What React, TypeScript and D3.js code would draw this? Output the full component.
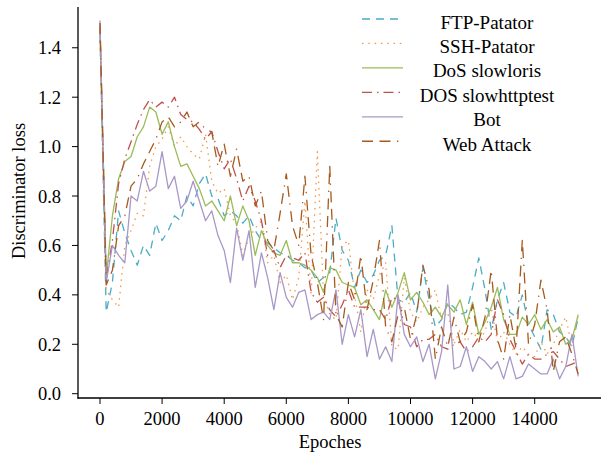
import React from "react";
import * as d3 from "d3";

const EPOCH_STEP = 200;
const N_POINTS = 78;

const FTP_PATATOR = [1.45, 0.33, 0.45, 0.74, 0.65, 0.58, 0.52, 0.60, 0.56, 0.69, 0.62, 0.66, 0.72, 0.70, 0.80, 0.76, 0.85, 0.89, 0.80, 0.79, 0.72, 0.74, 0.72, 0.69, 0.72, 0.66, 0.62, 0.61, 0.59, 0.57, 0.56, 0.54, 0.53, 0.51, 0.50, 0.45, 0.47, 0.49, 0.71, 0.58, 0.54, 0.43, 0.50, 0.45, 0.48, 0.54, 0.56, 0.68, 0.38, 0.37, 0.41, 0.33, 0.51, 0.38, 0.27, 0.30, 0.37, 0.35, 0.32, 0.33, 0.43, 0.55, 0.42, 0.26, 0.38, 0.45, 0.33, 0.31, 0.40, 0.28, 0.23, 0.18, 0.34, 0.32, 0.25, 0.23, 0.19, 0.31];
const SSH_PATATOR = [1.45, 0.42, 0.38, 0.35, 0.60, 0.66, 0.73, 0.72, 0.92, 1.00, 1.03, 1.08, 1.00, 1.04, 1.00, 0.97, 0.95, 1.05, 0.86, 0.81, 0.83, 0.72, 0.69, 0.56, 0.63, 0.67, 0.70, 0.53, 0.56, 0.45, 0.48, 0.38, 0.47, 0.78, 0.40, 0.98, 0.40, 0.32, 0.30, 0.60, 0.62, 0.40, 0.25, 0.42, 0.38, 0.48, 0.53, 0.19, 0.18, 0.47, 0.33, 0.29, 0.35, 0.38, 0.42, 0.30, 0.33, 0.20, 0.26, 0.21, 0.25, 0.22, 0.25, 0.35, 0.21, 0.25, 0.20, 0.16, 0.19, 0.16, 0.15, 0.21, 0.16, 0.20, 0.26, 0.31, 0.19, 0.31];
const DOS_SLOWLORIS = [1.48, 0.47, 0.72, 0.87, 0.94, 0.96, 1.04, 1.08, 1.16, 1.14, 1.05, 1.10, 1.00, 0.92, 0.93, 0.88, 0.83, 0.76, 0.78, 0.74, 0.70, 0.80, 0.68, 0.76, 0.70, 0.56, 0.66, 0.60, 0.57, 0.56, 0.62, 0.53, 0.53, 0.52, 0.50, 0.47, 0.41, 0.51, 0.50, 0.45, 0.44, 0.43, 0.36, 0.38, 0.34, 0.30, 0.42, 0.35, 0.41, 0.49, 0.38, 0.41, 0.37, 0.32, 0.35, 0.31, 0.36, 0.33, 0.38, 0.28, 0.37, 0.24, 0.29, 0.35, 0.43, 0.30, 0.24, 0.24, 0.31, 0.28, 0.32, 0.26, 0.30, 0.25, 0.27, 0.20, 0.22, 0.32];
const DOS_SLOWHTTPTEST = [1.49, 0.46, 0.62, 0.85, 0.95, 1.02, 1.09, 1.15, 1.19, 1.16, 1.18, 1.16, 1.20, 1.13, 1.11, 1.10, 1.07, 1.03, 1.06, 0.98, 0.91, 0.95, 0.87, 0.78, 0.84, 0.78, 0.70, 0.56, 0.58, 0.51, 0.56, 0.55, 0.54, 0.57, 0.41, 0.37, 0.39, 0.34, 0.31, 0.36, 0.42, 0.35, 0.35, 0.35, 0.34, 0.34, 0.30, 0.39, 0.38, 0.28, 0.27, 0.19, 0.22, 0.22, 0.24, 0.19, 0.18, 0.20, 0.21, 0.17, 0.19, 0.23, 0.21, 0.24, 0.38, 0.32, 0.22, 0.17, 0.12, 0.16, 0.14, 0.14, 0.16, 0.17, 0.14, 0.11, 0.12, 0.13];
const BOT = [1.51, 0.45, 0.60, 0.56, 0.53, 0.80, 0.78, 0.90, 0.82, 0.84, 0.98, 0.83, 0.88, 0.75, 0.78, 0.86, 0.78, 0.70, 0.74, 0.64, 0.58, 0.45, 0.67, 0.54, 0.66, 0.43, 0.57, 0.47, 0.34, 0.49, 0.39, 0.35, 0.41, 0.42, 0.30, 0.32, 0.33, 0.30, 0.42, 0.20, 0.32, 0.23, 0.34, 0.15, 0.26, 0.14, 0.19, 0.13, 0.40, 0.24, 0.19, 0.23, 0.13, 0.20, 0.06, 0.17, 0.44, 0.10, 0.11, 0.19, 0.09, 0.15, 0.13, 0.10, 0.13, 0.06, 0.15, 0.06, 0.07, 0.12, 0.10, 0.08, 0.08, 0.14, 0.06, 0.11, 0.24, 0.07];
const WEB_ATTACK = [1.50, 0.44, 0.50, 0.68, 0.72, 0.84, 0.87, 0.93, 0.98, 1.03, 1.10, 1.12, 1.08, 1.10, 1.14, 1.08, 1.10, 1.07, 1.06, 0.92, 1.01, 0.88, 0.99, 0.86, 0.88, 0.76, 0.82, 0.62, 0.58, 0.73, 0.89, 0.68, 0.60, 0.88, 0.56, 0.45, 0.30, 0.92, 0.32, 0.27, 0.45, 0.38, 0.56, 0.34, 0.46, 0.62, 0.27, 0.21, 0.32, 0.35, 0.22, 0.32, 0.52, 0.42, 0.14, 0.27, 0.19, 0.31, 0.21, 0.25, 0.36, 0.21, 0.31, 0.50, 0.22, 0.14, 0.32, 0.18, 0.62, 0.20, 0.28, 0.46, 0.34, 0.09, 0.21, 0.23, 0.16, 0.08];

const SERIES_NAMES = ["FTP-Patator", "SSH-Patator", "DoS slowloris", "DOS slowhttptest", "Bot", "Web Attack"];
const SERIES_VALUES = [FTP_PATATOR, SSH_PATATOR, DOS_SLOWLORIS, DOS_SLOWHTTPTEST, BOT, WEB_ATTACK];
const SERIES_COLORS = ["#4bacc6", "#f79646", "#9bbb59", "#c0504d", "#a898c8", "#a65a1e"];
const SERIES_DASHES = ["8 6", "1.5 4.8", "none", "10 5 1.5 5", "none", "11 6.5 11 6.5 1.3 6.5"];

const X_TICKS = [0, 2000, 4000, 6000, 8000, 10000, 12000, 14000];
const Y_TICKS = [0, 0.2, 0.4, 0.6, 0.8, 1.0, 1.2, 1.4];

const FONT = "'Liberation Serif', 'Times New Roman', serif";

export default function App() {
  const W = 601, H = 455;
  const left = 78, right = 601, top = 7, bottom = 398;
  const x = d3.scaleLinear().domain([-708, 16135]).range([left, right]);
  const y = d3.scaleLinear().domain([-0.0174, 1.565]).range([bottom, top]);
  const epochs = d3.range(N_POINTS).map((i) => i * EPOCH_STEP);
  const line = d3
    .line<number>()
    .x((_, i) => x(epochs[i]))
    .y((d) => y(d));

  const legendX1 = 362, legendX2 = 403, legendTextX = 487;

  return (
    <svg
      width={W}
      height={H}
      style={{ position: "absolute", left: 0, top: 0, background: "#fff" }}
      fontFamily={FONT}
    >
      <rect x={0} y={0} width={W} height={H} fill="#fff" />
      <defs>
        <clipPath id="plot">
          <rect x={left} y={top} width={right - left} height={bottom - top} />
        </clipPath>
      </defs>
      <g clipPath="url(#plot)">
        {SERIES_VALUES.map((vals, k) => (
          <path
            key={k}
            d={line(vals) || ""}
            fill="none"
            stroke={SERIES_COLORS[k]}
            strokeWidth={1.3}
            strokeDasharray={SERIES_DASHES[k]}
            strokeLinejoin="round"
          />
        ))}
      </g>
      {/* spines */}
      <line x1={left} x2={left} y1={top} y2={bottom + 0.6} stroke="#000" strokeWidth={1.3} />
      <line x1={left - 0.6} x2={right} y1={bottom} y2={bottom} stroke="#000" strokeWidth={1.3} />
      {/* x ticks */}
      {X_TICKS.map((t) => (
        <g key={t}>
          <line x1={x(t)} x2={x(t)} y1={bottom} y2={bottom + 6} stroke="#000" strokeWidth={1} />
          <text x={x(t)} y={425} fontSize={18.5} textAnchor="middle" fill="#000">
            {t}
          </text>
        </g>
      ))}
      {/* y ticks */}
      {Y_TICKS.map((t) => (
        <g key={t}>
          <line x1={left - 6} x2={left} y1={y(t)} y2={y(t)} stroke="#000" strokeWidth={1} />
          <text x={61} y={y(t)} dy="0.35em" fontSize={18.5} textAnchor="end" fill="#000">
            {t.toFixed(1)}
          </text>
        </g>
      ))}
      <text x={330} y={448} fontSize={18.5} textAnchor="middle" fill="#000">
        Epoches
      </text>
      <text
        transform={`translate(25, 191) rotate(-90)`}
        fontSize={18.5}
        textAnchor="middle"
        fill="#000"
      >
        Discriminator loss
      </text>
      {/* legend */}
      {SERIES_NAMES.map((name, k) => {
        const base = 28.5 + k * 24.45;
        const ly = base - 9.5;
        return (
          <g key={name}>
            <line
              x1={legendX1}
              x2={legendX2}
              y1={ly}
              y2={ly}
              stroke={SERIES_COLORS[k]}
              strokeWidth={1.3}
              strokeDasharray={SERIES_DASHES[k]}
            />
            <text x={legendTextX} y={base} fontSize={19} textAnchor="middle" fill="#000">
              {name}
            </text>
          </g>
        );
      })}
    </svg>
  );
}
